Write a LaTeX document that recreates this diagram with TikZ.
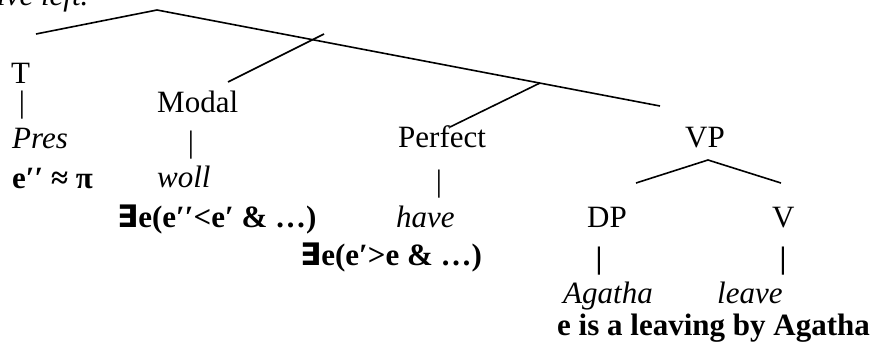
\documentclass[tikz,border=0pt]{standalone}
\usepackage{fontspec}
\setmainfont{Liberation Serif}
\newfontfamily\exfont{DejaVu Sans}
\begin{document}
\begin{tikzpicture}[x=1pt,y=-1pt,
  lbl/.style={anchor=base west, inner sep=0pt, font=\fontsize{31}{36}\selectfont},
  itl/.style={lbl, font=\fontsize{31}{36}\selectfont\itshape},
  bfl/.style={lbl, font=\fontsize{31}{36}\selectfont\bfseries},
  bar/.style={anchor=base, inner sep=0pt, font=\fontsize{31}{36}\selectfont},
  bbar/.style={bar, font=\fontsize{31}{36}\selectfont\bfseries},
  branch/.style={line width=1.6pt}]
\useasboundingbox (0,0) rectangle (881,346);
\clip (0,0) rectangle (881,346);
% cut-off text at top
\node[itl] (top) at (-3,5) {ive left.};
% tree coordinates
\coordinate (root) at (157,10);
\coordinate (tl) at (36,34);
\coordinate (tr) at (660,106);
\coordinate (mlow) at (228,82);
\coordinate (mhigh) at (324,34);
\coordinate (plow) at (450,127);
\coordinate (phigh) at (540,83);
\coordinate (vpa) at (708,160);
\coordinate (vpl) at (636,183);
\coordinate (vpr) at (781,183);
\draw[branch] (tl) -- (root) -- (tr);
\draw[branch] (mlow) -- (mhigh);
\draw[branch] (plow) -- (phigh);
\draw[branch] (vpl) -- (vpa) -- (vpr);
% T column
\node[lbl] (T) at (11,83) {T};
\node[bar] (Tbar) at (22,112) {|};
\node[itl] (Pres) at (12,148) {Pres};
\node[bfl] (Tsem) at (12,188) {e′′ ≈ π};
% Modal column
\node[lbl] (Modal) at (157,112) {Modal};
\node[bar] (Mbar) at (191,152) {|};
\node[itl] (woll) at (157,187) {woll};
\node[bfl] (Msem) at (117,227) {{\exfont ∃}e(e′′<e′ \& …)};
% Perfect column
\node[lbl] (Perf) at (398,147) {Perfect};
\node[bar] (Pbar) at (439,191) {|};
\node[itl] (have) at (396,227) {have};
\node[bfl] (Psem) at (300,265) {{\exfont ∃}e(e′>e \& …)};
% VP
\node[lbl] (VP) at (685,147) {VP};
\node[lbl] (DP) at (587,227) {DP};
\node[lbl] (V) at (772,227) {V};
\node[bbar] (DPbar) at (599,268) {|};
\node[bbar] (Vbar) at (783,268) {|};
\node[itl] (Agatha) at (563,303) {Agatha};
\node[itl] (leave) at (717,303) {leave};
\node[bfl] (Vsem) at (557,335) {e is a leaving by Agatha};
\end{tikzpicture}
\end{document}
